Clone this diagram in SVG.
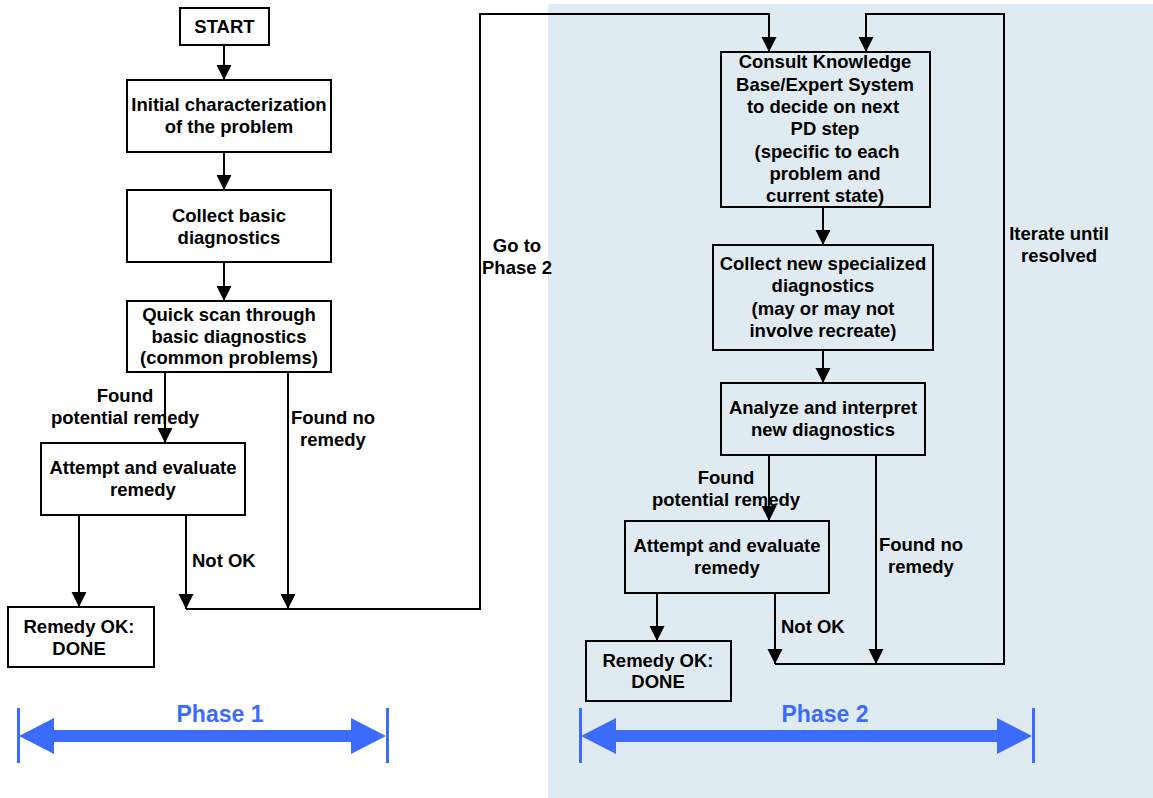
<svg xmlns="http://www.w3.org/2000/svg" width="1153" height="798" viewBox="0 0 1153 798">
  <defs>
    <style>
      .box { fill: #ffffff; stroke: #000000; stroke-width: 2; }
      .box2 { fill: none; stroke: #000000; stroke-width: 2; }
      .t { font-family: "Liberation Sans", Arial, sans-serif; font-weight: bold; font-size: 18.5px; fill: #000000; text-anchor: middle; }
      .ts { text-anchor: start; }
      .wire { fill: none; stroke: #000000; stroke-width: 2; }
      .arr { marker-end: url(#head); }
      .phase { fill: #3b6cff; }
      .phaseTxt { font-family: "Liberation Sans", Arial, sans-serif; font-weight: bold; font-size: 23px; fill: #3b6cff; text-anchor: middle; }
    </style>
    <marker id="head" markerUnits="userSpaceOnUse" markerWidth="16" markerHeight="16" viewBox="0 0 16 16" refX="15" refY="8" orient="auto">
      <path d="M0,0.5 L15,8 L0,15.5 z" fill="#000000"/>
    </marker>
  </defs>

  <!-- phase 2 backdrop -->
  <rect x="548" y="4" width="605" height="794" fill="#e0ebf1"/>

  <!-- connectors -->
  <g id="connectors">
    <line class="wire arr" x1="224" y1="45" x2="224" y2="80"/>
    <line class="wire arr" x1="224" y1="152" x2="224" y2="190"/>
    <line class="wire arr" x1="224" y1="262" x2="224" y2="301"/>
    <line class="wire arr" x1="165" y1="372" x2="165" y2="443"/>
    <line class="wire arr" x1="288" y1="372" x2="288" y2="609"/>
    <line class="wire arr" x1="79" y1="515" x2="79" y2="607"/>
    <line class="wire arr" x1="186" y1="515" x2="186" y2="609"/>
    <polyline class="wire arr" points="186,609 480,609 480,14 769,14 769,52"/>

    <line class="wire arr" x1="823" y1="207" x2="823" y2="245"/>
    <line class="wire arr" x1="823" y1="350" x2="823" y2="383"/>
    <line class="wire arr" x1="769" y1="455" x2="769" y2="521"/>
    <line class="wire arr" x1="876" y1="455" x2="876" y2="664"/>
    <line class="wire arr" x1="657" y1="593" x2="657" y2="641"/>
    <line class="wire arr" x1="775" y1="593" x2="775" y2="664"/>
    <polyline class="wire arr" points="775,664 1004,664 1004,14 866,14 866,52"/>

    <text class="t" x="125" y="402">Found</text>
    <text class="t" x="125" y="424">potential remedy</text>
    <text class="t" x="333" y="424">Found no</text>
    <text class="t" x="333" y="446">remedy</text>
    <text class="t ts" x="192" y="567">Not OK</text>
    <text class="t" x="517" y="252">Go to</text>
    <text class="t" x="517" y="274">Phase 2</text>

    <text class="t" x="726" y="484">Found</text>
    <text class="t" x="726" y="506">potential remedy</text>
    <text class="t" x="921" y="551">Found no</text>
    <text class="t" x="921" y="573">remedy</text>
    <text class="t ts" x="781" y="633">Not OK</text>
    <text class="t" x="1059" y="240">Iterate until</text>
    <text class="t" x="1059" y="262">resolved</text>
  </g>

  <!-- phase 1 nodes -->
  <g id="start">
    <rect class="box" x="180" y="8" width="89" height="37"/>
    <text class="t" x="224.5" y="33">START</text>
  </g>
  <g id="initial">
    <rect class="box" x="127" y="80" width="204" height="72"/>
    <text class="t" x="229" y="111">Initial characterization</text>
    <text class="t" x="229" y="133">of the problem</text>
  </g>
  <g id="collect-basic">
    <rect class="box" x="127" y="190" width="204" height="72"/>
    <text class="t" x="229" y="222">Collect basic</text>
    <text class="t" x="229" y="244">diagnostics</text>
  </g>
  <g id="quick-scan">
    <rect class="box" x="127" y="301" width="204" height="71"/>
    <text class="t" x="229" y="321">Quick scan through</text>
    <text class="t" x="229" y="343">basic diagnostics</text>
    <text class="t" x="229" y="364">(common problems)</text>
  </g>
  <g id="attempt-1">
    <rect class="box" x="41" y="443" width="204" height="72"/>
    <text class="t" x="143" y="474">Attempt and evaluate</text>
    <text class="t" x="143" y="496">remedy</text>
  </g>
  <g id="done-1">
    <rect class="box" x="8" y="607" width="146" height="60"/>
    <text class="t" x="79" y="633">Remedy OK:</text>
    <text class="t" x="79" y="655">DONE</text>
  </g>

  <!-- phase 2 nodes -->
  <g id="consult">
    <rect class="box2" x="721" y="52" width="209" height="155"/>
    <text class="t" x="825" y="68">Consult Knowledge</text>
    <text class="t" x="825" y="91">Base/Expert System</text>
    <text class="t" x="823" y="113">to decide on next</text>
    <text class="t" x="825" y="135">PD step</text>
    <text class="t" x="827" y="158">(specific to each</text>
    <text class="t" x="825" y="180">problem and</text>
    <text class="t" x="825" y="202">current state)</text>
  </g>
  <g id="collect-new">
    <rect class="box2" x="713" y="245" width="220" height="105"/>
    <text class="t" x="823" y="270">Collect new specialized</text>
    <text class="t" x="823" y="292">diagnostics</text>
    <text class="t" x="823" y="315">(may or may not</text>
    <text class="t" x="823" y="337">involve recreate)</text>
  </g>
  <g id="analyze">
    <rect class="box2" x="721" y="383" width="204" height="72"/>
    <text class="t" x="823" y="414">Analyze and interpret</text>
    <text class="t" x="823" y="436">new diagnostics</text>
  </g>
  <g id="attempt-2">
    <rect class="box2" x="625" y="521" width="204" height="72"/>
    <text class="t" x="727" y="552">Attempt and evaluate</text>
    <text class="t" x="727" y="574">remedy</text>
  </g>
  <g id="done-2">
    <rect class="box2" x="586" y="641" width="145" height="60"/>
    <text class="t" x="658" y="667">Remedy OK:</text>
    <text class="t" x="658" y="688">DONE</text>
  </g>

  <!-- phase spans -->
  <g id="phase-1">
    <rect class="phase" x="17" y="708" width="3" height="55"/>
    <rect class="phase" x="386" y="708" width="3" height="55"/>
    <rect class="phase" x="50" y="730" width="305" height="12"/>
    <polygon class="phase" points="19,736 54,718 54,754"/>
    <polygon class="phase" points="386,736 351,718 351,754"/>
    <text class="phaseTxt" x="220" y="722">Phase 1</text>
  </g>
  <g id="phase-2">
    <rect class="phase" x="579" y="708" width="3" height="55"/>
    <rect class="phase" x="1032" y="708" width="3" height="55"/>
    <rect class="phase" x="612" y="730" width="389" height="12"/>
    <polygon class="phase" points="581,736 616,718 616,754"/>
    <polygon class="phase" points="1032,736 997,718 997,754"/>
    <text class="phaseTxt" x="825" y="722">Phase 2</text>
  </g>
</svg>
